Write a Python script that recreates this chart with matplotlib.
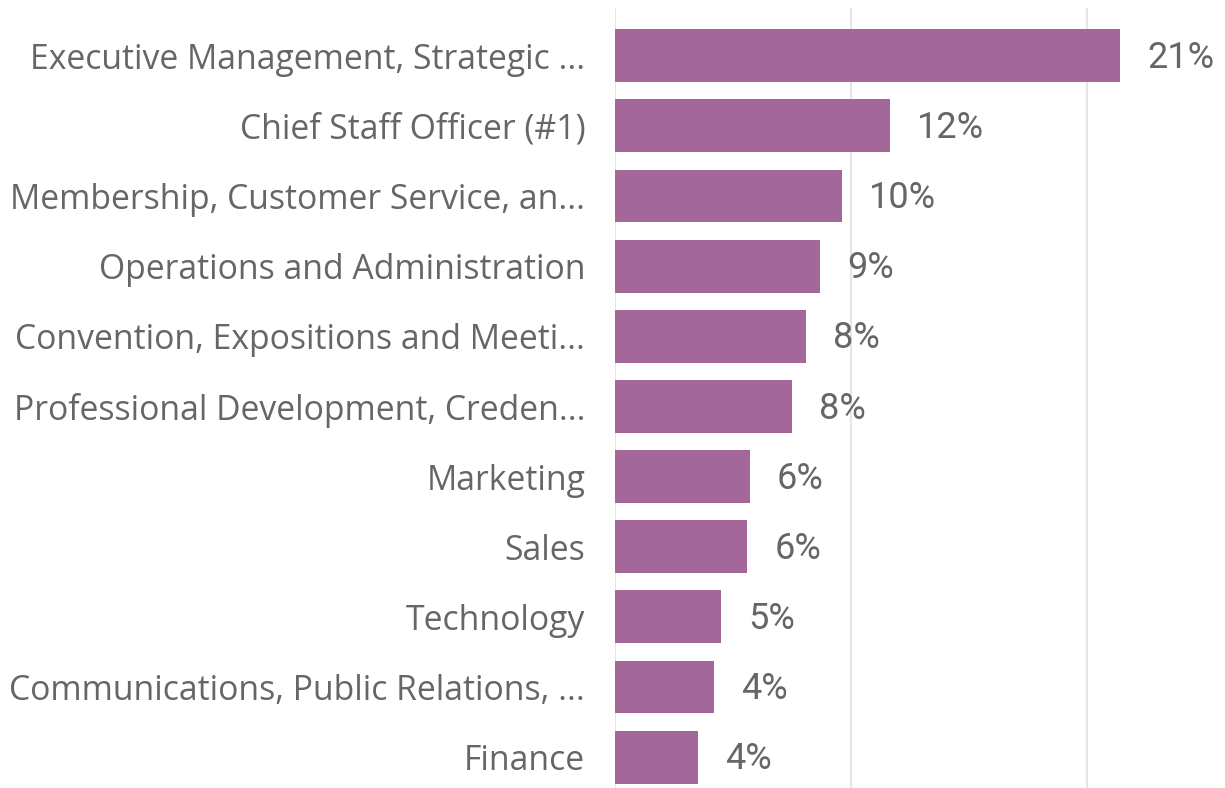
import matplotlib
matplotlib.use("Agg")
import matplotlib.pyplot as plt

categories = [
    "Executive Management, Strategic ...",
    "Chief Staff Officer (#1)",
    "Membership, Customer Service, an...",
    "Operations and Administration",
    "Convention, Expositions and Meeti...",
    "Professional Development, Creden...",
    "Marketing",
    "Sales",
    "Technology",
    "Communications, Public Relations, ...",
    "Finance",
]
values = [21.4, 11.65, 9.6, 8.7, 8.1, 7.5, 5.7, 5.6, 4.5, 4.2, 3.5]
value_labels = ["21%", "12%", "10%", "9%", "8%", "8%", "6%", "6%", "5%", "4%", "4%"]
ticks = [0, 10, 20]

W, H = 1225, 788
fig = plt.figure(figsize=(W / 100, H / 100), dpi=100)
left_px, right_px, top_px, bottom_px = 615, 1200, 8, 788
ax = fig.add_axes([left_px / W, 1 - bottom_px / H, (right_px - left_px) / W, (bottom_px - top_px) / H])

n = len(categories)
ypos = list(range(n))
ax.barh(ypos, values, height=0.755, color="#A36899", zorder=3)
ax.set_xlim(0, (right_px - left_px) / 23.6)
ax.set_ylim(n - 1 + 0.44, -0.68)

ax.set_xticks(ticks)
ax.xaxis.grid(True, color="#E6E6E6", linewidth=1.5, zorder=0)
ax.tick_params(axis="x", bottom=False, labelbottom=False)
ax.set_yticks(ypos)
ax.set_yticklabels(categories, fontsize=24.3, color="#666666", family=["Open Sans", "DejaVu Sans"])
ax.tick_params(axis="y", left=False, pad=18)
for s in ax.spines.values():
    s.set_visible(False)

for y, v, lab in zip(ypos, values, value_labels):
    ax.text(v + 1.15, y + 0.03, lab, va="center", ha="left", fontsize=26, color="#666666",
            family=["Roboto", "DejaVu Sans"])

fig.savefig("out.png", dpi=100)
